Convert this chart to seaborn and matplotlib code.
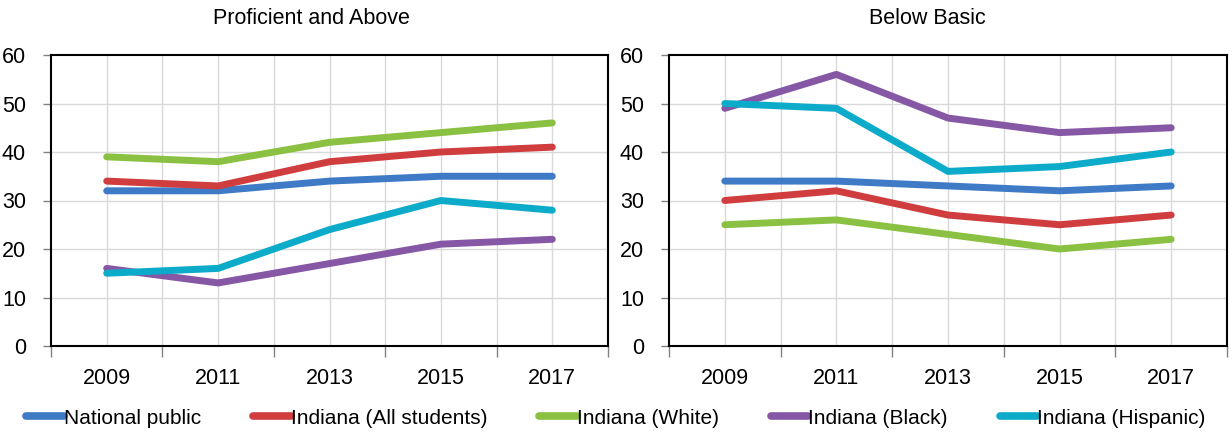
import pandas as pd
import numpy as np
from matplotlib import pyplot as plt
import seaborn as sns

# данные
years = [2009, 2011, 2013, 2015, 2017]
groups = ['National public', 'Indiana (All students)', 'Indiana (White)',
          'Indiana (Black)', 'Indiana (Hispanic)']

prof_national = [32, 32, 34, 35, 35]
prof_all = [34, 33, 38, 40, 41]
prof_white = [39, 38, 42, 44, 46]
prof_black = [16, 13, 17, 21, 22]
prof_hispanic = [15, 16, 24, 30, 28]

below_national = [34, 34, 33, 32, 33]
below_all = [30, 32, 27, 25, 27]
below_white = [25, 26, 23, 20, 22]
below_black = [49, 56, 47, 44, 45]
below_hispanic = [50, 49, 36, 37, 40]

colors = ['#3E7AC5', '#D03D3E', '#8BC142', '#8557A5', '#0CABCA']


def long_df(series):
    rows = []
    for g, vals in zip(groups, series):
        for y, v in zip(years, vals):
            rows.append({'Year': y, 'Group': g, 'Value': v})
    return pd.DataFrame(rows)


df_prof = long_df([prof_national, prof_all, prof_white, prof_black, prof_hispanic])
df_below = long_df([below_national, below_all, below_white, below_black, below_hispanic])

sns.set_style('white')
plt.rcParams['font.family'] = ['Liberation Sans', 'DejaVu Sans']
plt.rcParams['text.color'] = 'black'

fig = plt.figure(figsize=(12.32, 4.34), dpi=100)
ax1 = fig.add_axes([51 / 1232, 88 / 434, 557 / 1232, 291 / 434])
ax2 = fig.add_axes([669 / 1232, 88 / 434, 558 / 1232, 291 / 434])

palette = dict(zip(groups, colors))

for ax, df in [(ax1, df_prof), (ax2, df_below)]:
    sns.lineplot(data=df, x='Year', y='Value', hue='Group', palette=palette,
                 hue_order=groups, linewidth=5, ax=ax, legend=False,
                 solid_capstyle='round')
    ax.set_xlim(2008, 2018)
    ax.set_ylim(0, 60)
    ax.set_yticks(range(0, 61, 10))
    ax.set_xticks(range(2008, 2019, 2))
    ax.set_xticklabels([])
    ax.set_xticks(years, minor=True)
    ax.set_xticklabels([str(y) for y in years], minor=True)
    ax.set_xlabel('')
    ax.set_ylabel('')
    # сетка
    for yv in range(10, 60, 10):
        ax.axhline(yv, color='#D9D9D9', lw=1, zorder=0)
    for xv in range(2009, 2018):
        ax.axvline(xv, color='#D9D9D9', lw=1, zorder=0)
    ax.tick_params(axis='y', which='major', length=6, width=1, color='#808080',
                   labelcolor='black', direction='out', pad=12, labelsize=15.5, left=True)
    ax.tick_params(axis='x', which='major', length=8, width=1, color='#808080',
                   direction='out', bottom=True)
    ax.tick_params(axis='x', which='minor', length=0, pad=16, labelsize=15.5,
                   labelcolor='black')
    for s in ax.spines.values():
        s.set_visible(True)
        s.set_color('black')
        s.set_linewidth(1.5)

fig.text(311 / 1232, 1 - 18 / 434, 'Proficient and Above', ha='center', va='center', fontsize=15.5)
fig.text(927 / 1232, 1 - 18 / 434, 'Below Basic', ha='center', va='center', fontsize=15.5)

handles = [plt.Line2D([0], [0], color=c, lw=5.5, solid_capstyle='round') for c in colors]
fig.legend(handles, groups, loc='center', bbox_to_anchor=(0.5, 1 - 418 / 434), ncol=5,
           frameon=False, fontsize=15, handlelength=1.8, handletextpad=0.0,
           columnspacing=2.5, borderaxespad=0)

fig.savefig('out.png', dpi=100)
